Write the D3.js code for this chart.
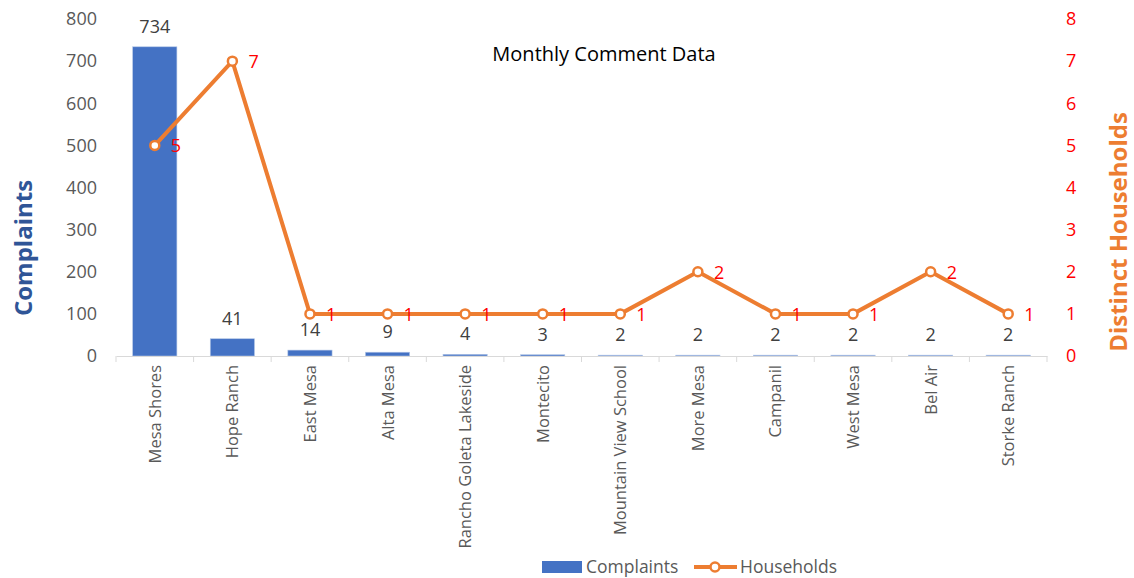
<!DOCTYPE html>
<html>
<head>
<meta charset="utf-8">
<script src="https://cdn.jsdelivr.net/npm/d3@7"></script>
<style>
  body { margin: 0; background: #fff; }
  text { font-family: "Open Sans", "Noto Sans", sans-serif; }
</style>
</head>
<body>
<div id="chart"></div>
<script>
// Data
const categories = ['Mesa Shores', 'Hope Ranch', 'East Mesa', 'Alta Mesa', 'Rancho Goleta Lakeside',
  'Montecito', 'Mountain View School', 'More Mesa', 'Campanil', 'West Mesa', 'Bel Air', 'Storke Ranch']
const complaints = [734, 41, 14, 9, 4, 3, 2, 2, 2, 2, 2, 2]
const households = [5, 7, 1, 1, 1, 1, 1, 2, 1, 1, 2, 1]
const leftTicks = [0, 100, 200, 300, 400, 500, 600, 700, 800]
const rightTicks = [0, 1, 2, 3, 4, 5, 6, 7, 8]

const width = 1134
const height = 578
const plot = { left: 116, right: 1047, top: 19, bottom: 356 }

const svg = d3.select('#chart')
  .append('svg')
  .attr('width', width)
  .attr('height', height)

// Scales
const xScale = d3.scaleBand()
  .domain(categories)
  .range([plot.left, plot.right])
  .paddingInner(0.43)
  .paddingOuter(0.215)

const yLeft = d3.scaleLinear().domain([0, 800]).range([plot.bottom, plot.top])
const yRight = d3.scaleLinear().domain([0, 8]).range([plot.bottom, plot.top])

const step = xScale.step()
const center = d => xScale(d) + xScale.bandwidth() / 2

// Bars
svg.append('g')
  .selectAll('rect')
  .data(categories)
  .join('rect')
  .attr('x', d => xScale(d))
  .attr('y', (d, i) => yLeft(complaints[i]))
  .attr('width', xScale.bandwidth())
  .attr('height', (d, i) => plot.bottom - yLeft(complaints[i]))
  .attr('fill', '#4472C4')
  .attr('stroke', '#b4c7e7')
  .attr('stroke-width', 0.6)

// Bar labels
svg.append('g')
  .selectAll('text')
  .data(categories)
  .join('text')
  .attr('x', d => center(d))
  .attr('y', (d, i) => yLeft(complaints[i]) - 14)
  .attr('text-anchor', 'middle')
  .attr('font-size', 18)
  .attr('fill', '#404040')
  .text((d, i) => complaints[i])

// X axis
const xAxis = d3.axisBottom(xScale).tickSize(0).tickFormat('')
const xAxisGroup = svg.append('g')
  .attr('transform', `translate(0, ${plot.bottom})`)
  .call(xAxis)
xAxisGroup.select('.domain').attr('stroke', '#d9d9d9')
xAxisGroup.selectAll('.sep')
  .data(d3.range(categories.length + 1))
  .join('line')
  .attr('class', 'sep')
  .attr('x1', i => plot.left + i * step)
  .attr('x2', i => plot.left + i * step)
  .attr('y1', 0)
  .attr('y2', 6)
  .attr('stroke', '#d9d9d9')

svg.append('g')
  .selectAll('text')
  .data(categories)
  .join('text')
  .attr('transform', d => `translate(${center(d) + 6}, 365) rotate(-90)`)
  .attr('text-anchor', 'end')
  .attr('font-size', 16.5)
  .attr('fill', '#595959')
  .text(d => d)

// Left axis
const leftAxis = d3.axisLeft(yLeft).tickValues(leftTicks).tickSize(0).tickPadding(19)
const leftGroup = svg.append('g')
  .attr('transform', `translate(${plot.left}, 0)`)
  .call(leftAxis)
leftGroup.select('.domain').remove()
leftGroup.selectAll('text')
  .attr('font-size', 18)
  .attr('fill', '#595959')
  .style('font-family', '"Open Sans", sans-serif')

// Right axis
const rightAxis = d3.axisRight(yRight).tickValues(rightTicks).tickSize(0).tickPadding(19)
const rightGroup = svg.append('g')
  .attr('transform', `translate(${plot.right}, 0)`)
  .call(rightAxis)
rightGroup.select('.domain').remove()
rightGroup.selectAll('text')
  .attr('font-size', 18)
  .attr('fill', '#ff0000')
  .style('font-family', '"Open Sans", sans-serif')

// Line
const line = d3.line()
  .x((d, i) => center(categories[i]))
  .y(d => yRight(d))

svg.append('path')
  .datum(households)
  .attr('d', line)
  .attr('fill', 'none')
  .attr('stroke', '#ED7D31')
  .attr('stroke-width', 4)
  .attr('stroke-linejoin', 'round')

svg.append('g')
  .selectAll('circle')
  .data(households)
  .join('circle')
  .attr('cx', (d, i) => center(categories[i]))
  .attr('cy', d => yRight(d))
  .attr('r', 4.5)
  .attr('fill', '#fff')
  .attr('stroke', '#ED7D31')
  .attr('stroke-width', 2.5)

svg.append('g')
  .selectAll('text')
  .data(households)
  .join('text')
  .attr('x', (d, i) => center(categories[i]) + 16)
  .attr('y', d => yRight(d) + 7)
  .attr('font-size', 18)
  .attr('fill', '#ff0000')
  .text(d => d)

// Title
svg.append('text')
  .attr('x', 604)
  .attr('y', 61)
  .attr('text-anchor', 'middle')
  .attr('font-size', 20)
  .attr('fill', '#000')
  .text('Monthly Comment Data')

// Axis titles
svg.append('text')
  .attr('transform', 'translate(32, 248) rotate(-90)')
  .attr('text-anchor', 'middle')
  .attr('font-size', 24)
  .attr('font-weight', 'bold')
  .attr('fill', '#2F5597')
  .style('font-family', '"Liberation Sans Narrow", "Open Sans", sans-serif')
  .text('Complaints')

svg.append('text')
  .attr('transform', 'translate(1127, 232) rotate(-90)')
  .attr('text-anchor', 'middle')
  .attr('font-size', 24)
  .attr('font-weight', 'bold')
  .attr('fill', '#ED7D31')
  .style('font-family', '"Liberation Sans Narrow", "Open Sans", sans-serif')
  .text('Distinct Households')

// Legend
const legend = svg.append('g')
legend.append('rect')
  .attr('x', 542).attr('y', 561).attr('width', 40).attr('height', 12)
  .attr('fill', '#4472C4')
legend.append('text')
  .attr('x', 586).attr('y', 573)
  .attr('font-size', 17.5).attr('fill', '#595959')
  .text('Complaints')
legend.append('line')
  .attr('x1', 694).attr('x2', 737).attr('y1', 567).attr('y2', 567)
  .attr('stroke', '#ED7D31').attr('stroke-width', 4)
legend.append('circle')
  .attr('cx', 715).attr('cy', 567).attr('r', 4.5)
  .attr('fill', '#fff').attr('stroke', '#ED7D31').attr('stroke-width', 2.5)
legend.append('text')
  .attr('x', 740).attr('y', 573)
  .attr('font-size', 17.5).attr('fill', '#595959')
  .text('Households')
</script>
</body>
</html>
